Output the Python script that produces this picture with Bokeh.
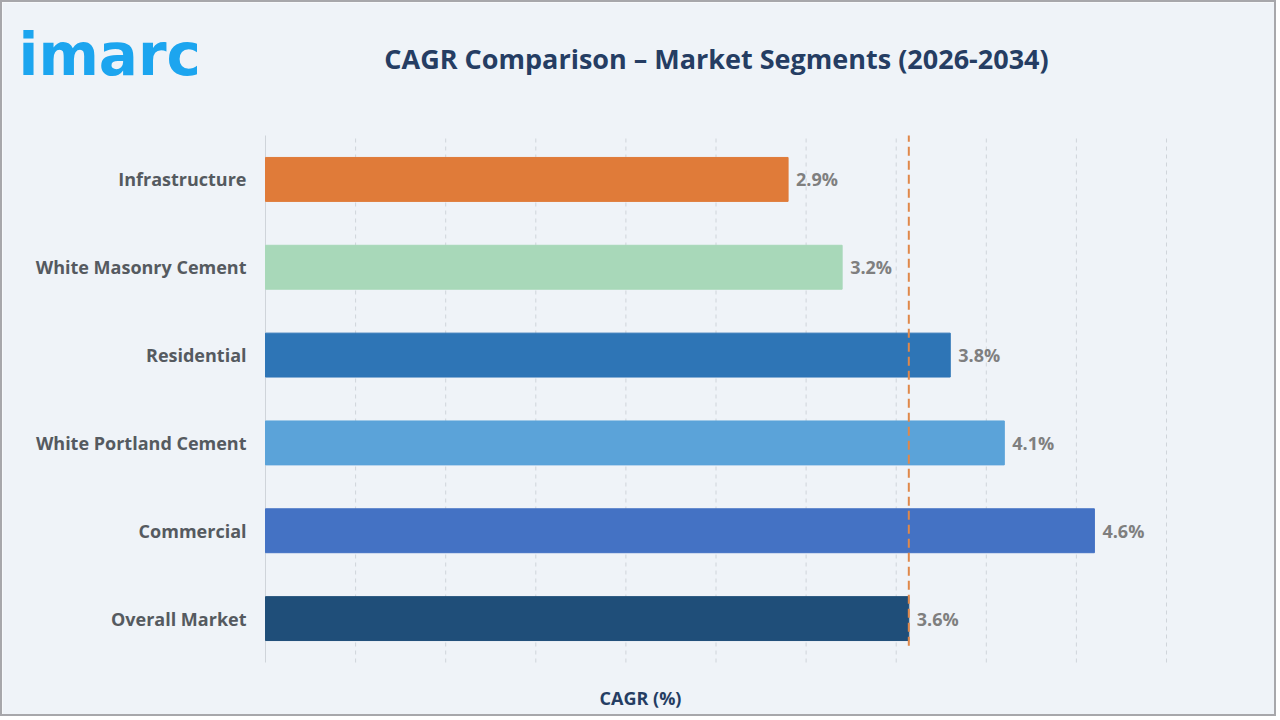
import numpy as np
from bokeh.plotting import figure
from bokeh.models import ColumnDataSource, Label, Range1d
from bokeh.core.properties import value
from bokeh.embed import file_html
from bokeh.resources import INLINE

categories = ["Infrastructure", "White Masonry Cement", "Residential",
              "White Portland Cement", "Commercial", "Overall Market"]
cagr = [2.9, 3.2, 3.8, 4.1, 4.6, 3.57]
labels = ["2.9%", "3.2%", "3.8%", "4.1%", "4.6%", "3.6%"]
colors = ["#e07b39", "#a8d8b9", "#2e75b6", "#5ba3d9", "#4472c4", "#1f4e79"]
overall_cagr = 3.57
grid_ticks = [0.5, 1.0, 1.5, 2.0, 2.5, 3.0, 3.5, 4.0, 4.5, 5.0]

BG = "#eff3f8"
FONT = "Open Sans"
n = len(categories)
ypos = [n - 1 - i for i in range(n)]

# canvas geometry (pixels inside the 2px border)
W, H = 1276, 716
PL, PR, PT, PB = 263, 1164, 133, 660      # plot area in canvas pixels
XMIN, XMAX = 0.0, 5.0
YMIN, YMAX = -0.5, n - 0.5
sx = (PR - PL) / (XMAX - XMIN)
sy = (PB - PT) / (YMAX - YMIN)
x_range = Range1d(XMIN - PL / sx, XMAX + (W - PR) / sx)
y_range = Range1d(YMIN - (H - PB) / sy, YMAX + PT / sy)

src = ColumnDataSource(dict(y=ypos, x=cagr, lab=labels, color=colors, cat=categories))

p = figure(width=W, height=H, output_backend="svg", toolbar_location=None,
           x_range=x_range, y_range=y_range, min_border=0)
p.styles = {"border": "2px solid #a7a7ab"}
p.background_fill_color = BG
p.border_fill_color = BG
p.outline_line_color = None
p.xaxis.visible = False
p.yaxis.visible = False
p.xgrid.visible = False
p.ygrid.visible = False

# grid lines
p.segment(x0=grid_ticks, x1=grid_ticks, y0=YMIN, y1=YMAX,
          line_color="#cfd4da", line_width=1, line_dash="4 4")
p.segment(x0=[XMIN], x1=[XMIN], y0=[YMIN], y1=[YMAX], line_color="#cfd4da", line_width=1)

# bars
p.hbar(y="y", right="x", left=0, height=0.5, color="color", source=src)
p.text(x="x", y="y", text="lab", source=src, x_offset=8, text_baseline="middle",
       text_font=value(FONT), text_font_style="bold", text_font_size="18px",
       text_color="#7f7f7f")

# category labels
p.text(x=0, y="y", text="cat", source=src, x_offset=-19, text_align="right",
       text_baseline="middle", text_font=value(FONT), text_font_style="bold",
       text_font_size="18px", text_color="#555a60")

# overall market reference line
p.segment(x0=[overall_cagr], x1=[overall_cagr], y0=[YMIN + 0.19], y1=[YMAX],
          line_color="#e0884a", line_width=2, line_dash="9 5")

def lab(x, y, text, size, color, font=FONT, align="center", baseline="middle"):
    # screen units: from canvas left, and from canvas bottom
    p.add_layout(Label(x=x, y=H - y, x_units="screen", y_units="screen", text=text,
                       text_font=font, text_font_style="bold", text_font_size=size,
                       text_color=color, text_align=align, text_baseline=baseline))

lab(714, 56, "CAGR Comparison \u2013 Market Segments (2026-2034)", "27px", "#253d63")
lab(638, 695, "CAGR (%)", "18px", "#253d63")
lab(16, 52, "imarc", "58px", "#1ca5ef", font="DejaVu Sans", align="left")

open("out.html", "w").write(file_html(p, INLINE))
